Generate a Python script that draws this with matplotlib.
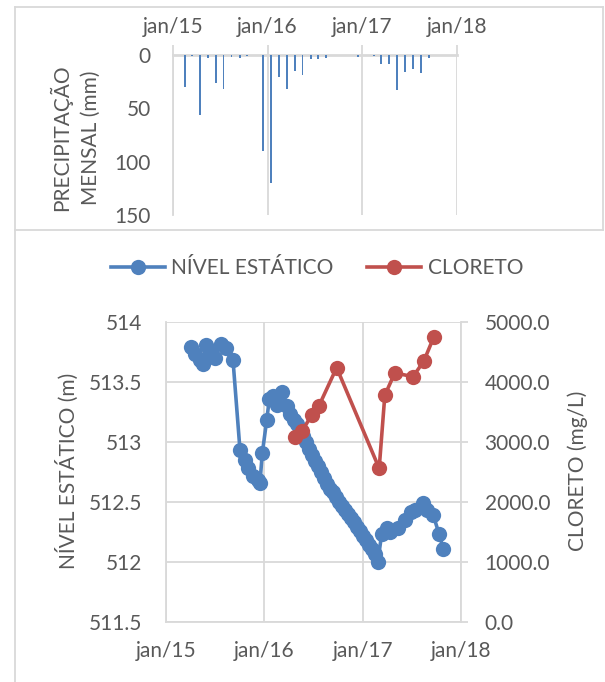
import matplotlib
matplotlib.use("Agg")
import matplotlib.pyplot as plt
from matplotlib.lines import Line2D
import pandas as pd

plt.rcParams['font.family'] = ['Lato', 'DejaVu Sans']

# ---------------- data ----------------
year_ticks = ['2015-01-01', '2016-01-01', '2017-01-01', '2018-01-01']
year_labels = ['jan/15', 'jan/16', 'jan/17', 'jan/18']

precip_start = '2015-01-01'
precip_mm = [0, 29.7, 0.6, 56.3, 3.1, 26.6, 32.2, 1.6, 3.1, 0.9, 0, 89.7,
             119.7, 20.3, 32.2, 14.7, 19.1, 3.75, 3.75, 3.1, 0, 0, 0, 1.9,
             0, 0.9, 8.4, 8.75, 32.8, 15.6, 12.8, 16.6, 2.8, 0, 0, 0]
precip_ticks = [0, 50, 100, 150]

level_dates = ['2015-04-05', '2015-04-17', '2015-05-06', '2015-05-18', '2015-05-31',
               '2015-06-15', '2015-07-01', '2015-07-23', '2015-08-13', '2015-09-07',
               '2015-10-03', '2015-10-21', '2015-11-03', '2015-11-21', '2015-12-09',
               '2015-12-16', '2015-12-25', '2016-01-10', '2016-01-20', '2016-02-02',
               '2016-02-17', '2016-03-06', '2016-03-24', '2016-04-05', '2016-04-20',
               '2016-05-01', '2016-05-13', '2016-05-24', '2016-06-04', '2016-06-15',
               '2016-06-26', '2016-07-07', '2016-07-18', '2016-07-30', '2016-08-10',
               '2016-08-21', '2016-09-01', '2016-09-12', '2016-09-23', '2016-10-04',
               '2016-10-16', '2016-10-27', '2016-11-07', '2016-11-18', '2016-11-29',
               '2016-12-10', '2016-12-21', '2017-01-01', '2017-01-13', '2017-01-24',
               '2017-02-04', '2017-02-15', '2017-02-26',
               '2017-03-12', '2017-03-31', '2017-04-12', '2017-05-13',
               '2017-06-06', '2017-07-01', '2017-07-14', '2017-08-13', '2017-08-26',
               '2017-09-20', '2017-10-12', '2017-10-27']
level_m = [513.79, 513.73, 513.68, 513.65, 513.81, 513.75, 513.70, 513.82, 513.78, 513.68,
           512.93, 512.85, 512.78, 512.72, 512.68, 512.66, 512.91, 513.18, 513.36, 513.38,
           513.31, 513.42, 513.30, 513.23, 513.18,
           513.15, 513.10, 513.05, 513.00, 512.94, 512.89, 512.84, 512.80, 512.75, 512.70,
           512.65, 512.61, 512.58, 512.54, 512.50, 512.47, 512.43, 512.40, 512.37, 512.33,
           512.29, 512.26, 512.22, 512.18, 512.14, 512.11, 512.07, 512.00,
           512.23, 512.28, 512.25, 512.28, 512.35, 512.42, 512.43, 512.49, 512.43, 512.39,
           512.23, 512.11]
level_ticks = [511.5, 512, 512.5, 513, 513.5, 514]

chl_dates = ['2016-04-24', '2016-05-22', '2016-06-25', '2016-07-22', '2016-09-26',
             '2017-03-03', '2017-03-24', '2017-04-30', '2017-07-07', '2017-08-16',
             '2017-09-22']
chl_mgL = [3080, 3190, 3450, 3600, 4240, 2560, 3780, 4150, 4090, 4350, 4750]
chl_ticks = [0, 1000, 2000, 3000, 4000, 5000]

series_names = ['NÍVEL ESTÁTICO', 'CLORETO']

# ---------------- style ----------------
BLUE = '#4F81BD'
RED = '#C0504D'
GRID = '#D9D9D9'
TXT = '#595959'
FS = 15
MS = 11
LW = 2.6

W, H = 605, 682
fig = plt.figure(figsize=(W / 100, H / 100), dpi=100)


def fx(px):
    return px / W


def fy(py):
    return 1 - py / H


# outer frames
for (x0, y0, x1, y1) in [(15, 7, 603, 7), (15, 7, 15, 682), (603, 7, 603, 230), (15, 230, 603, 230)]:
    fig.add_artist(Line2D([fx(x0), fx(x1)], [fy(y0), fy(y1)], transform=fig.transFigure,
                          color=GRID, lw=1.3))

x_ticks = pd.to_datetime(year_ticks)
x_lim = (pd.Timestamp('2015-01-01'), pd.Timestamp('2018-01-01'))

# ---------------- top panel ----------------
axt = fig.add_axes([fx(173), fy(215), (457 - 173) / W, (215 - 55) / H])
p_dates = pd.date_range(precip_start, periods=len(precip_mm), freq='MS') + pd.Timedelta(days=14)
axt.bar(p_dates, precip_mm, width=7, color=BLUE, zorder=3)
axt.set_ylim(150, 0)
axt.set_xlim(*x_lim)
axt.set_xticks(x_ticks)
axt.set_xticklabels(year_labels)
axt.xaxis.tick_top()
axt.set_yticks(precip_ticks)
axt.set_yticklabels([str(v) for v in precip_ticks])
axt.tick_params(axis='x', length=7, width=1.3, color=GRID, pad=6, labelsize=FS, labelcolor=TXT)
axt.tick_params(axis='y', length=0, pad=16, labelsize=FS, labelcolor=TXT)
axt.grid(axis='x', color=GRID, lw=1.3, zorder=0)
axt.set_axisbelow(True)
for s in ['bottom', 'right']:
    axt.spines[s].set_visible(False)
for s in ['left', 'top']:
    axt.spines[s].set_color(GRID)
    axt.spines[s].set_linewidth(1.3)
axt.spines['top'].set_linewidth(2)

fig.text(fx(75), fy(138), 'PRECIPITAÇÃO\nMENSAL (mm)', rotation=90, ha='center', va='center',
         fontsize=FS, color=TXT, linespacing=1.55, multialignment='center')

# ---------------- bottom panel ----------------
ax = fig.add_axes([fx(166), fy(622), (461 - 166) / W, (622 - 322) / H])
ax2 = ax.twinx()

ax.plot(pd.to_datetime(level_dates), level_m, '-o', color=BLUE, lw=LW, ms=MS, mew=0, zorder=3)
ax.set_ylim(511.5, 514)
ax.set_yticks(level_ticks)
ax.set_yticklabels(['{:g}'.format(v) for v in level_ticks])
ax.set_xlim(*x_lim)
ax.set_xticks(x_ticks)
ax.set_xticklabels(year_labels)
ax.grid(color=GRID, lw=1.3)
ax.set_axisbelow(True)
ax.tick_params(axis='x', length=0, pad=14, labelsize=FS, labelcolor=TXT)
ax.tick_params(axis='y', length=0, pad=17, labelsize=FS, labelcolor=TXT)
for s in ['left', 'bottom']:
    ax.spines[s].set_color(GRID)
    ax.spines[s].set_linewidth(1.3)
ax.spines['top'].set_visible(False)
ax.spines['right'].set_visible(False)

ax2.plot(pd.to_datetime(chl_dates), chl_mgL, '-o', color=RED, lw=LW, ms=MS, mew=0, zorder=3)
ax2.set_ylim(0, 5000)
ax2.set_yticks(chl_ticks)
ax2.set_yticklabels(['{:.1f}'.format(v) for v in chl_ticks])
ax2.set_xlim(*x_lim)
ax2.tick_params(axis='y', length=5, width=1.3, color=GRID, pad=12, labelsize=FS, labelcolor=TXT)
for s in ['left', 'bottom', 'top']:
    ax2.spines[s].set_visible(False)
ax2.spines['right'].set_color(GRID)
ax2.spines['right'].set_linewidth(1.3)

fig.text(fx(67), fy(471), 'NÍVEL ESTÁTICO (m)', rotation=90, ha='center', va='center',
         fontsize=FS, color=TXT)
fig.text(fx(578), fy(471), 'CLORETO (mg/L)', rotation=90, ha='center', va='center',
         fontsize=FS, color=TXT)

handles = [Line2D([], [], color=BLUE, lw=LW, marker='o', ms=MS, mew=0),
           Line2D([], [], color=RED, lw=LW, marker='o', ms=MS, mew=0)]
fig.legend(handles, series_names, loc='center', bbox_to_anchor=(fx(317), fy(268)), ncol=2,
           frameon=False, fontsize=FS, labelcolor=TXT, handlelength=2.6, handletextpad=0.3,
           columnspacing=1.6)

fig.savefig('out.png', dpi=100)
